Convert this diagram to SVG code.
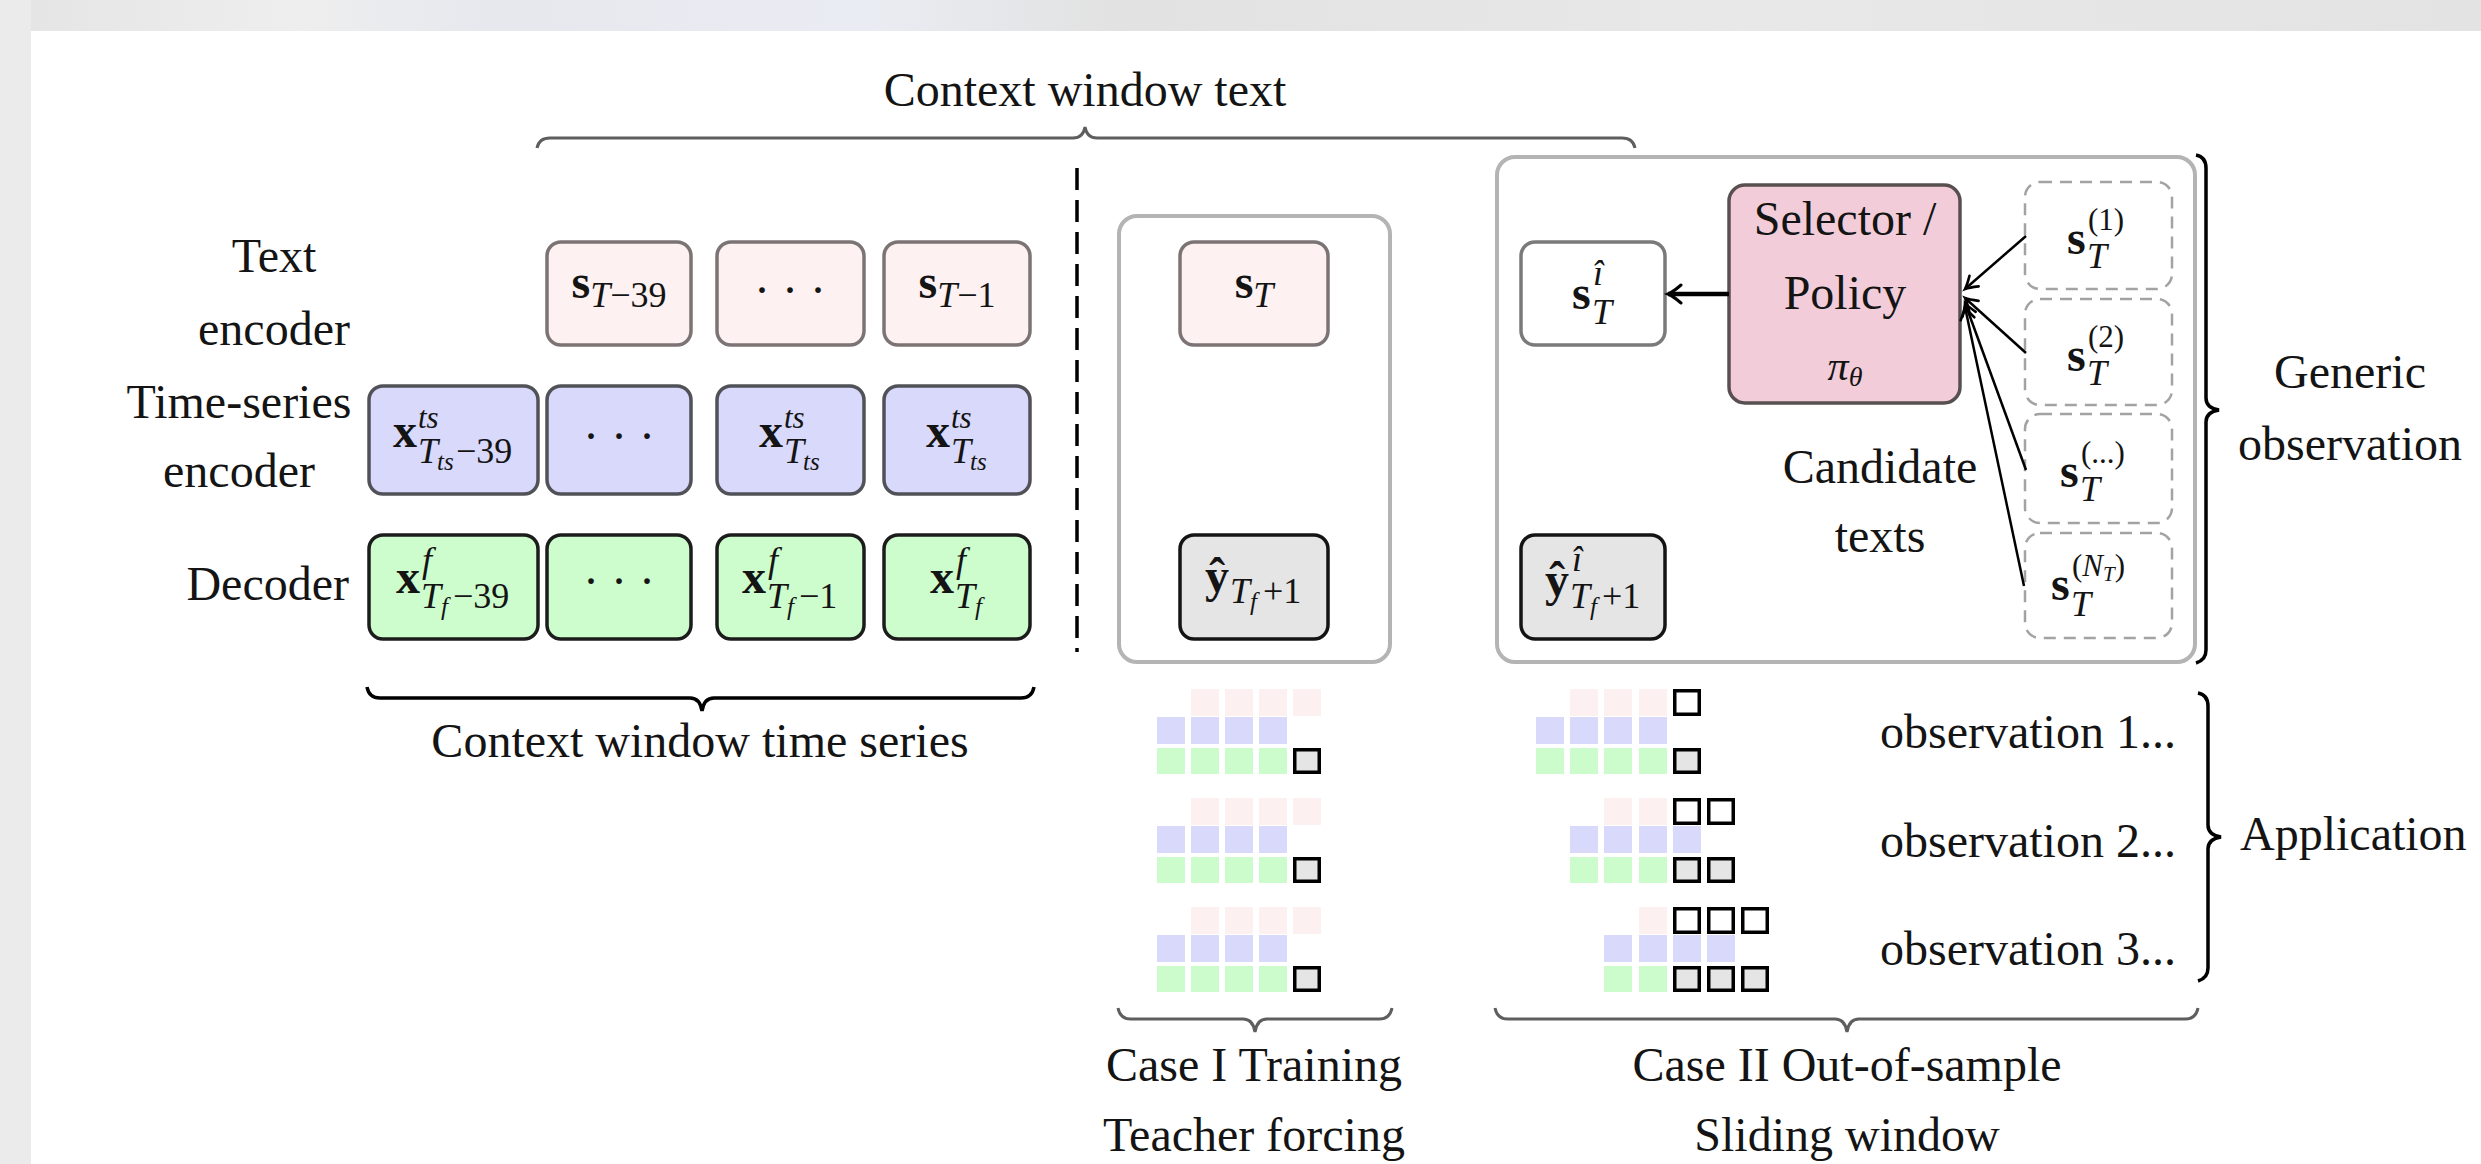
<svg xmlns="http://www.w3.org/2000/svg" width="2481" height="1164" viewBox="0 0 2481 1164">
  <defs>
    <style>
      text { font-family: "Liberation Serif", "Times New Roman", serif; fill: #141414; }
      .lbl { font-size: 48px; }
      .c { text-anchor: middle; }
      .m { font-size: 48px; }
      .b { font-weight: bold; }
      .i { font-style: italic; }
      .sub { font-size: 36px; }
      .sup { font-size: 31px; }
      .ss { font-size: 25px; }
      .box { stroke-width: 3.5; }
      .bt { fill: #fdf1f1; stroke: #7c7474; }
      .bs { fill: #d9d9fc; stroke: #515158; }
      .bd { fill: #cdfccd; stroke: #1c1c1c; }
      .bg { fill: #e5e5e5; stroke: #141414; }
      .bw { fill: #ffffff; stroke: #7a7a7a; }
      .sel { fill: #f2cdd9; stroke: #585050; }
      .frame { fill: #ffffff; stroke: #b4b4b4; stroke-width: 4; }
      .cand { fill: #ffffff; stroke: #a3a3a3; stroke-width: 2.5; stroke-dasharray: 12 8; }
      .brace { fill: none; stroke: #5e5e5e; stroke-width: 3; }
      .brace-k { fill: none; stroke: #000000; stroke-width: 3.5; }
      .cp { fill: #fdf0f0; }
      .cb { fill: #d9d9fc; }
      .cg { fill: #ccfccc; }
      .ow { fill: #ffffff; stroke: #000000; stroke-width: 3.5; }
      .og { fill: #e5e5e5; stroke: #000000; stroke-width: 3.5; }
      .arr { fill: none; stroke: #000000; }
    </style>
    <linearGradient id="band" x1="0" y1="0" x2="1" y2="0">
      <stop offset="0" stop-color="#e4e4e4"/>
      <stop offset="0.12" stop-color="#eeeeee"/>
      <stop offset="0.2" stop-color="#e6e8ee"/>
      <stop offset="0.35" stop-color="#e9ecf2"/>
      <stop offset="0.45" stop-color="#e2e2e2"/>
      <stop offset="0.7" stop-color="#e8e8e8"/>
      <stop offset="1" stop-color="#e3e3e3"/>
    </linearGradient>
    <marker id="tip" viewBox="-16 -12 20 24" refX="0" refY="0" markerWidth="20" markerHeight="24" markerUnits="userSpaceOnUse" orient="auto">
      <path d="M-13,-9 Q-5,-2 0,0 Q-5,2 -13,9" fill="none" stroke="#000" stroke-width="3" stroke-linecap="round"/>
    </marker>
    <marker id="tip-s" viewBox="-16 -12 20 24" refX="0" refY="0" markerWidth="20" markerHeight="24" markerUnits="userSpaceOnUse" orient="auto">
      <path d="M-12,-7 Q-4,-1.5 0,0 Q-4,1.5 -12,7" fill="none" stroke="#000" stroke-width="2.6" stroke-linecap="round"/>
    </marker>
  </defs>

  <!-- page -->
  <rect x="0" y="0" width="2481" height="1164" fill="#ffffff"/>
  <rect x="0" y="0" width="2481" height="31" fill="url(#band)"/>
  <rect x="0" y="0" width="31" height="1164" fill="#ebebeb"/>

  <!-- row labels -->
  <g id="row-labels">
    <text class="lbl c" x="274" y="272">Text</text>
    <text class="lbl c" x="274" y="345">encoder</text>
    <text class="lbl c" x="239" y="418">Time-series</text>
    <text class="lbl c" x="239" y="487">encoder</text>
    <text class="lbl" x="349" y="600" text-anchor="end">Decoder</text>
  </g>

  <!-- context window: text encoder row -->
  <g id="node-s-t39">
    <rect class="box bt" x="547" y="242" width="144" height="103" rx="14"/>
    <text class="m c" x="619" y="298"><tspan class="b">s</tspan><tspan class="i sub" dy="9">T</tspan><tspan class="sub">−39</tspan></text>
  </g>
  <g id="node-s-dots">
    <rect class="box bt" x="717" y="242" width="147" height="103" rx="14"/>
    <text class="m c" x="790" y="306">· · ·</text>
  </g>
  <g id="node-s-t1">
    <rect class="box bt" x="884" y="242" width="146" height="103" rx="14"/>
    <text class="m c" x="957" y="298"><tspan class="b">s</tspan><tspan class="i sub" dy="9">T</tspan><tspan class="sub">−1</tspan></text>
  </g>

  <!-- context window: time-series encoder row -->
  <g id="node-xts-39">
    <rect class="box bs" x="369" y="386" width="169" height="108" rx="14"/>
    <text class="m b" x="393" y="447">x</text>
    <text class="sup i" x="418" y="428">ts</text>
    <text class="sub i" x="418" y="463">T</text>
    <text class="ss i" x="437" y="470">ts</text>
    <text class="sub" x="456" y="463">−39</text>
  </g>
  <g id="node-xts-dots">
    <rect class="box bs" x="547" y="386" width="144" height="108" rx="14"/>
    <text class="m c" x="619" y="452">· · ·</text>
  </g>
  <g id="node-xts-a">
    <rect class="box bs" x="717" y="386" width="147" height="108" rx="14"/>
    <text class="m b" x="759" y="447">x</text>
    <text class="sup i" x="784" y="428">ts</text>
    <text class="sub i" x="784" y="463">T</text>
    <text class="ss i" x="803" y="470">ts</text>
  </g>
  <g id="node-xts-b">
    <rect class="box bs" x="884" y="386" width="146" height="108" rx="14"/>
    <text class="m b" x="926" y="447">x</text>
    <text class="sup i" x="951" y="428">ts</text>
    <text class="sub i" x="951" y="463">T</text>
    <text class="ss i" x="970" y="470">ts</text>
  </g>

  <!-- context window: decoder row -->
  <g id="node-xf-39">
    <rect class="box bd" x="369" y="535" width="169" height="104" rx="14"/>
    <text class="m b" x="396" y="593">x</text>
    <text class="sub i" x="422" y="572">f</text>
    <text class="sub i" x="421" y="608">T</text>
    <text class="ss i" x="441" y="615">f</text>
    <text class="sub" x="453" y="608">−39</text>
  </g>
  <g id="node-xf-dots">
    <rect class="box bd" x="547" y="535" width="144" height="104" rx="14"/>
    <text class="m c" x="619" y="597">· · ·</text>
  </g>
  <g id="node-xf-1">
    <rect class="box bd" x="717" y="535" width="147" height="104" rx="14"/>
    <text class="m b" x="742" y="593">x</text>
    <text class="sub i" x="768" y="572">f</text>
    <text class="sub i" x="767" y="608">T</text>
    <text class="ss i" x="787" y="615">f</text>
    <text class="sub" x="799" y="608">−1</text>
  </g>
  <g id="node-xf-0">
    <rect class="box bd" x="884" y="535" width="146" height="104" rx="14"/>
    <text class="m b" x="930" y="593">x</text>
    <text class="sub i" x="956" y="572">f</text>
    <text class="sub i" x="955" y="608">T</text>
    <text class="ss i" x="975" y="615">f</text>
  </g>

  <!-- Case I: training with teacher forcing -->
  <g id="case-1">
    <rect class="frame" x="1119" y="216" width="271" height="446" rx="18"/>
    <g id="node-case1-s">
      <rect class="box bt" x="1180" y="242" width="148" height="103" rx="14"/>
      <text class="m c" x="1254" y="298"><tspan class="b">s</tspan><tspan class="i sub" dy="9">T</tspan></text>
    </g>
    <g id="node-case1-y">
      <rect class="box bg" x="1180" y="535" width="148" height="104" rx="14"/>
      <text class="m b" x="1205" y="592">ŷ</text>
      <text class="sub i" x="1230" y="603">T</text>
      <text class="ss i" x="1250" y="610">f</text>
      <text class="sub" x="1263" y="603">+1</text>
    </g>
  </g>

  <!-- Case II: out-of-sample, selector over candidate texts -->
  <g id="case-2">
    <rect class="frame" x="1497" y="157" width="698" height="505" rx="18"/>
    <g id="node-case2-s">
      <rect class="box bw" x="1521" y="242" width="144" height="103" rx="14"/>
      <text class="m b" x="1572" y="309">s</text>
      <text class="sub i" x="1593" y="285">î</text>
      <text class="sub i" x="1592" y="324">T</text>
    </g>
    <g id="node-case2-y">
      <rect class="box bg" x="1521" y="535" width="144" height="104" rx="14"/>
      <text class="m b" x="1545" y="596">ŷ</text>
      <text class="sub i" x="1572" y="571">î</text>
      <text class="sub i" x="1570" y="608">T</text>
      <text class="ss i" x="1590" y="615">f</text>
      <text class="sub" x="1602" y="608">+1</text>
    </g>
    <g id="node-selector">
      <rect class="box sel" x="1729" y="185" width="231" height="218" rx="16"/>
      <text class="lbl c" x="1845" y="235">Selector /</text>
      <text class="lbl c" x="1845" y="309">Policy</text>
      <text class="c i" x="1845" y="380"><tspan font-size="42">π</tspan><tspan font-size="28" dy="6">θ</tspan></text>
    </g>
    <g id="node-cand-1">
      <rect class="cand" x="2025" y="182" width="147" height="107" rx="15"/>
      <text class="m b" x="2067" y="254">s</text>
      <text class="sup" x="2088" y="230">(1)</text>
      <text class="sub i" x="2087" y="268">T</text>
    </g>
    <g id="node-cand-2">
      <rect class="cand" x="2025" y="299" width="147" height="106" rx="15"/>
      <text class="m b" x="2067" y="371">s</text>
      <text class="sup" x="2088" y="347">(2)</text>
      <text class="sub i" x="2087" y="385">T</text>
    </g>
    <g id="node-cand-3">
      <rect class="cand" x="2025" y="414" width="147" height="109" rx="15"/>
      <text class="m b" x="2060" y="487">s</text>
      <text class="sup" x="2081" y="463">(...)</text>
      <text class="sub i" x="2080" y="501">T</text>
    </g>
    <g id="node-cand-4">
      <rect class="cand" x="2025" y="533" width="147" height="105" rx="15"/>
      <text class="m b" x="2051" y="600">s</text>
      <text class="sup" x="2072" y="576">(<tspan class="i">N</tspan><tspan class="i" font-size="21" dy="5">T</tspan><tspan dy="-5">)</tspan></text>
      <text class="sub i" x="2071" y="616">T</text>
    </g>
    <text class="lbl c" x="1880" y="483">Candidate</text>
    <text class="lbl c" x="1880" y="552">texts</text>
  </g>

  <!-- context separator -->
  <line x1="1077" y1="168" x2="1077" y2="652" stroke="#000" stroke-width="3.5" stroke-dasharray="22 10"/>

  <!-- connectors -->
  <g id="connectors">
    <line class="arr" x1="1729" y1="294" x2="1668" y2="294" stroke-width="4.5" marker-end="url(#tip)"/>
    <line class="arr" x1="2026" y1="236" x2="1965" y2="289" stroke-width="2.5" marker-end="url(#tip-s)"/>
    <line class="arr" x1="2026" y1="353" x2="1965" y2="298" stroke-width="2.5" marker-end="url(#tip-s)"/>
    <line class="arr" x1="2026" y1="470" x2="1965" y2="303" stroke-width="2.5" marker-end="url(#tip-s)"/>
    <line class="arr" x1="2024" y1="586" x2="1965" y2="307" stroke-width="2.5" marker-end="url(#tip-s)"/>
  </g>

  <!-- braces and their captions -->
  <g id="braces">
    <path class="brace" d="M537,148 Q539,138 550,138 L1073,138 Q1083,138 1085,127 Q1087,138 1097,138 L1622,138 Q1633,138 1635,148"/>
    <text class="lbl c" x="1085" y="106">Context window text</text>

    <path class="brace-k" d="M367,687 Q369,698 380,698 L690,698 Q700,698 702,711 Q704,698 714,698 L1021,698 Q1032,698 1034,687"/>
    <text class="lbl c" x="700" y="757">Context window time series</text>

    <path class="brace" d="M1118,1008 Q1120,1019 1131,1019 L1243,1019 Q1253,1019 1255,1032 Q1257,1019 1267,1019 L1379,1019 Q1390,1019 1392,1008"/>
    <text class="lbl c" x="1254" y="1081">Case I Training</text>
    <text class="lbl c" x="1254" y="1151">Teacher forcing</text>

    <path class="brace" d="M1495,1008 Q1497,1019 1508,1019 L1835,1019 Q1845,1019 1847,1032 Q1849,1019 1859,1019 L2185,1019 Q2196,1019 2198,1008"/>
    <text class="lbl c" x="1847" y="1081">Case II Out-of-sample</text>
    <text class="lbl c" x="1847" y="1151">Sliding window</text>

    <path class="brace-k" d="M2196,155 Q2206,157 2206,168 L2206,398 Q2206,408 2219,410 Q2206,412 2206,422 L2206,650 Q2206,660 2196,663"/>
    <text class="lbl c" x="2350" y="388">Generic</text>
    <text class="lbl c" x="2350" y="460">observation</text>

    <path class="brace-k" d="M2198,693 Q2208,695 2208,706 L2208,825 Q2208,835 2221,837 Q2208,839 2208,849 L2208,968 Q2208,978 2198,981"/>
    <text class="lbl" x="2240" y="850">Application</text>
  </g>

  <!-- Case I application grids -->
  <g id="grid-case-1">
    <g>
      <rect class="cp" x="1191" y="689" width="28" height="27"/><rect class="cp" x="1225" y="689" width="28" height="27"/><rect class="cp" x="1259" y="689" width="28" height="27"/><rect class="cp" x="1293" y="689" width="28" height="27"/>
      <rect class="cb" x="1157" y="717" width="28" height="27"/><rect class="cb" x="1191" y="717" width="28" height="27"/><rect class="cb" x="1225" y="717" width="28" height="27"/><rect class="cb" x="1259" y="717" width="28" height="27"/>
      <rect class="cg" x="1157" y="748" width="28" height="26"/><rect class="cg" x="1191" y="748" width="28" height="26"/><rect class="cg" x="1225" y="748" width="28" height="26"/><rect class="cg" x="1259" y="748" width="28" height="26"/>
      <rect class="og" x="1294.75" y="749.75" width="24.5" height="22.5"/>
    </g>
    <g>
      <rect class="cp" x="1191" y="798" width="28" height="27"/><rect class="cp" x="1225" y="798" width="28" height="27"/><rect class="cp" x="1259" y="798" width="28" height="27"/><rect class="cp" x="1293" y="798" width="28" height="27"/>
      <rect class="cb" x="1157" y="826" width="28" height="27"/><rect class="cb" x="1191" y="826" width="28" height="27"/><rect class="cb" x="1225" y="826" width="28" height="27"/><rect class="cb" x="1259" y="826" width="28" height="27"/>
      <rect class="cg" x="1157" y="857" width="28" height="26"/><rect class="cg" x="1191" y="857" width="28" height="26"/><rect class="cg" x="1225" y="857" width="28" height="26"/><rect class="cg" x="1259" y="857" width="28" height="26"/>
      <rect class="og" x="1294.75" y="858.75" width="24.5" height="22.5"/>
    </g>
    <g>
      <rect class="cp" x="1191" y="907" width="28" height="27"/><rect class="cp" x="1225" y="907" width="28" height="27"/><rect class="cp" x="1259" y="907" width="28" height="27"/><rect class="cp" x="1293" y="907" width="28" height="27"/>
      <rect class="cb" x="1157" y="935" width="28" height="27"/><rect class="cb" x="1191" y="935" width="28" height="27"/><rect class="cb" x="1225" y="935" width="28" height="27"/><rect class="cb" x="1259" y="935" width="28" height="27"/>
      <rect class="cg" x="1157" y="966" width="28" height="26"/><rect class="cg" x="1191" y="966" width="28" height="26"/><rect class="cg" x="1225" y="966" width="28" height="26"/><rect class="cg" x="1259" y="966" width="28" height="26"/>
      <rect class="og" x="1294.75" y="967.75" width="24.5" height="22.5"/>
    </g>
  </g>

  <!-- Case II application grids (sliding window) -->
  <g id="grid-case-2">
    <g>
      <rect class="cp" x="1570" y="689" width="28" height="27"/><rect class="cp" x="1604" y="689" width="28" height="27"/><rect class="cp" x="1639" y="689" width="28" height="27"/>
      <rect class="ow" x="1674.75" y="690.75" width="24.5" height="23.5"/>
      <rect class="cb" x="1536" y="717" width="28" height="27"/><rect class="cb" x="1570" y="717" width="28" height="27"/><rect class="cb" x="1604" y="717" width="28" height="27"/><rect class="cb" x="1639" y="717" width="28" height="27"/>
      <rect class="cg" x="1536" y="748" width="28" height="26"/><rect class="cg" x="1570" y="748" width="28" height="26"/><rect class="cg" x="1604" y="748" width="28" height="26"/><rect class="cg" x="1639" y="748" width="28" height="26"/>
      <rect class="og" x="1674.75" y="749.75" width="24.5" height="22.5"/>
    </g>
    <g>
      <rect class="cp" x="1604" y="798" width="28" height="27"/><rect class="cp" x="1639" y="798" width="28" height="27"/>
      <rect class="ow" x="1674.75" y="799.75" width="24.5" height="23.5"/><rect class="ow" x="1708.75" y="799.75" width="24.5" height="23.5"/>
      <rect class="cb" x="1570" y="826" width="28" height="27"/><rect class="cb" x="1604" y="826" width="28" height="27"/><rect class="cb" x="1639" y="826" width="28" height="27"/><rect class="cb" x="1673" y="826" width="28" height="27"/>
      <rect class="cg" x="1570" y="857" width="28" height="26"/><rect class="cg" x="1604" y="857" width="28" height="26"/><rect class="cg" x="1639" y="857" width="28" height="26"/>
      <rect class="og" x="1674.75" y="858.75" width="24.5" height="22.5"/><rect class="og" x="1708.75" y="858.75" width="24.5" height="22.5"/>
    </g>
    <g>
      <rect class="cp" x="1639" y="907" width="28" height="27"/>
      <rect class="ow" x="1674.75" y="908.75" width="24.5" height="23.5"/><rect class="ow" x="1708.75" y="908.75" width="24.5" height="23.5"/><rect class="ow" x="1742.75" y="908.75" width="24.5" height="23.5"/>
      <rect class="cb" x="1604" y="935" width="28" height="27"/><rect class="cb" x="1639" y="935" width="28" height="27"/><rect class="cb" x="1673" y="935" width="28" height="27"/><rect class="cb" x="1707" y="935" width="28" height="27"/>
      <rect class="cg" x="1604" y="966" width="28" height="26"/><rect class="cg" x="1639" y="966" width="28" height="26"/>
      <rect class="og" x="1674.75" y="967.75" width="24.5" height="22.5"/><rect class="og" x="1708.75" y="967.75" width="24.5" height="22.5"/><rect class="og" x="1742.75" y="967.75" width="24.5" height="22.5"/>
    </g>
    <text class="lbl" x="1880" y="748">observation 1...</text>
    <text class="lbl" x="1880" y="857">observation 2...</text>
    <text class="lbl" x="1880" y="965">observation 3...</text>
  </g>
</svg>
